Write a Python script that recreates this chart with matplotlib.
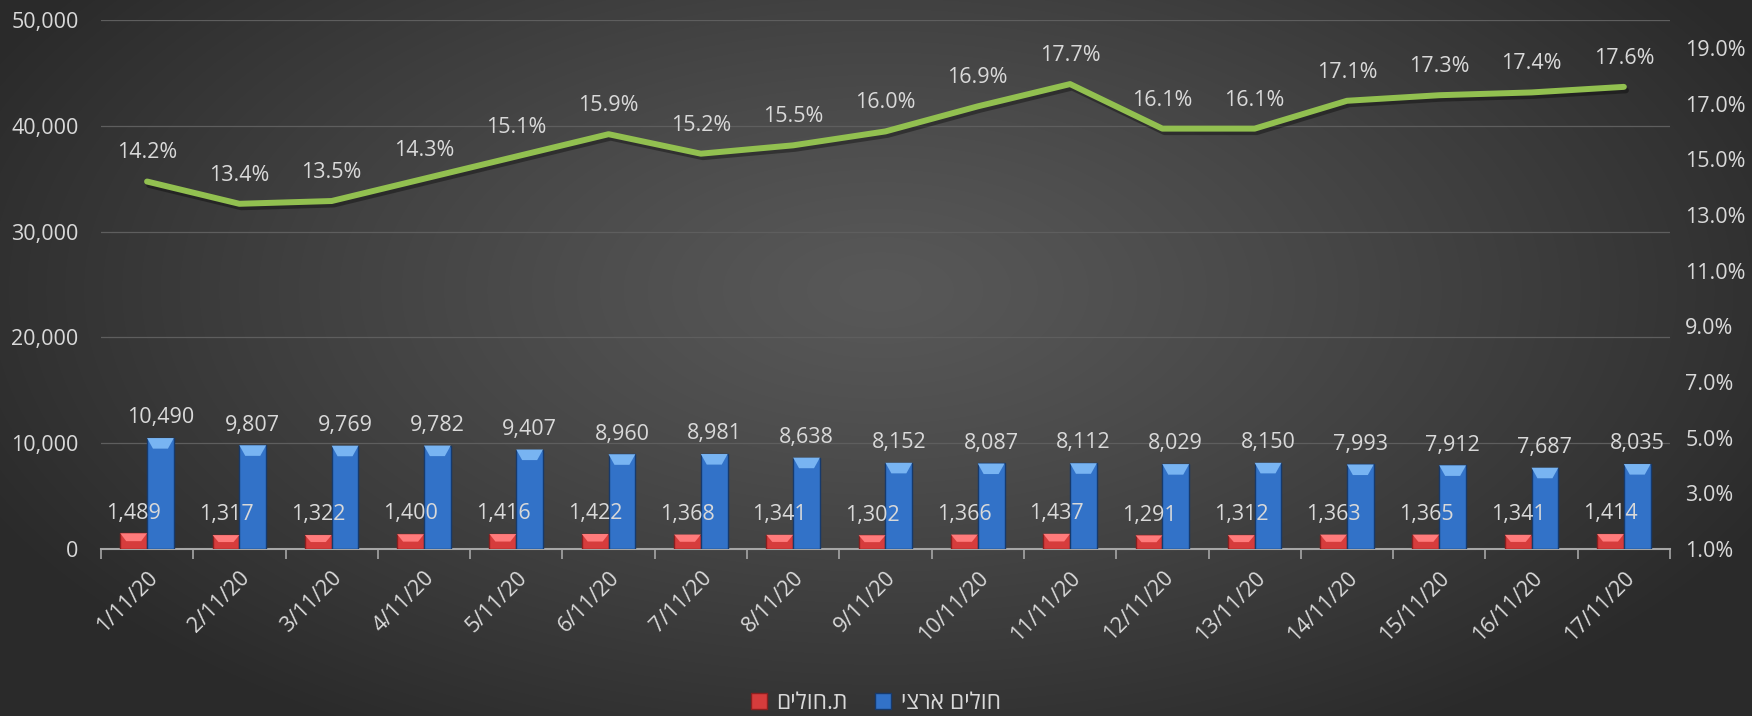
# coding: utf-8

import numpy as np
import matplotlib
matplotlib.use("Agg")
import matplotlib.pyplot as plt
import matplotlib.patheffects as pe
from matplotlib.patches import Patch
from matplotlib.ticker import FuncFormatter

plt.rcParams["font.family"] = ["Open Sans", "DejaVu Sans"]

# ---- data
dates = ["1/11/20", "2/11/20", "3/11/20", "4/11/20", "5/11/20", "6/11/20", "7/11/20",
         "8/11/20", "9/11/20", "10/11/20", "11/11/20", "12/11/20", "13/11/20",
         "14/11/20", "15/11/20", "16/11/20", "17/11/20"]
national = [10490, 9807, 9769, 9782, 9407, 8960, 8981, 8638, 8152, 8087, 8112,
            8029, 8150, 7993, 7912, 7687, 8035]
hospital = [1489, 1317, 1322, 1400, 1416, 1422, 1368, 1341, 1302, 1366, 1437,
            1291, 1312, 1363, 1365, 1341, 1414]
ratio = [14.2, 13.4, 13.5, 14.3, 15.1, 15.9, 15.2, 15.5, 16.0, 16.9, 17.7,
         16.1, 16.1, 17.1, 17.3, 17.4, 17.6]

label_national = "חולים ארצי"
label_hospital = "ת.חולים"

TXT = "#d9d9d9"
FS = 15.5


def heb(s):
    # matplotlib has no bidi, give it the visual order
    return s[::-1]


def draw_bars(ax, xs, vals, body, edge, cap, width):
    ax.bar(xs, vals, width=width, color=body, edgecolor=edge, linewidth=1.0, zorder=3)
    cap_h = 1000.0
    for x, v in zip(xs, vals):
        h = min(cap_h, v * 0.5)
        x0, x1 = x - width / 2, x + width / 2
        ax.fill([x0, x1, x1 - width * 0.22, x0 + width * 0.22],
                [v, v, v - h, v - h], color=cap, lw=0, zorder=4)


def main():
    fig = plt.figure(figsize=(17.52, 7.16), dpi=100)

    # radial dark background
    bg = fig.add_axes([0, 0, 1, 1], zorder=-10)
    yy, xx = np.mgrid[0:716, 0:1752]
    r = np.sqrt(((xx - 880) / 1000.0) ** 2 + ((yy - 290) / 520.0) ** 2)
    t = np.clip(r, 0, 1) ** 1.2
    c0, c1 = 0x58 / 255.0, 0x2a / 255.0
    img = c0 * (1 - t) + c1 * t
    bg.imshow(np.dstack([img, img, img]), aspect="auto", interpolation="bilinear")
    bg.axis("off")

    ax = fig.add_axes([0.0576, 0.2332, 0.8956, 0.7388])
    ax.set_facecolor("none")

    x = np.arange(len(dates))
    w = 0.29
    draw_bars(ax, x - w / 2, hospital, "#d63c3c", "#8a1f1f", "#ff7b7b", w)
    draw_bars(ax, x + w / 2, national, "#3272c8", "#173a6c", "#78b4f2", w)

    for xi, v in zip(x - w / 2, hospital):
        ax.annotate(f"{v:,}", (xi, v), xytext=(0, 7), textcoords="offset points",
                    ha="center", va="bottom", color=TXT, fontsize=FS, zorder=6)
    for xi, v in zip(x + w / 2, national):
        ax.annotate(f"{v:,}", (xi, v), xytext=(0, 7), textcoords="offset points",
                    ha="center", va="bottom", color=TXT, fontsize=FS, zorder=6)

    ax.set_xlim(-0.5, len(dates) - 0.5)
    ax.set_ylim(0, 50000)
    ax.set_yticks(np.arange(0, 50001, 10000))
    ax.yaxis.set_major_formatter(FuncFormatter(lambda v, p: f"{int(v):,}"))
    ax.yaxis.grid(True, color="#5e5e5e", linewidth=0.9, zorder=0)
    ax.set_axisbelow(True)
    ax.tick_params(axis="y", length=0, pad=16, colors=TXT, labelsize=FS)

    ax.set_xticks(x)
    ax.set_xticklabels(dates, rotation=45, ha="right", va="top",
                       rotation_mode="anchor", color=TXT, fontsize=FS)
    ax.set_xticks(np.arange(-0.5, len(dates)), minor=True)
    ax.tick_params(axis="x", which="major", length=0, pad=13)
    ax.tick_params(axis="x", which="minor", length=7, width=1.2, color="#a6a6a6")

    for s in ["top", "left", "right"]:
        ax.spines[s].set_visible(False)
    ax.spines["bottom"].set_color("#a6a6a6")
    ax.spines["bottom"].set_linewidth(1.5)

    ax2 = ax.twinx()
    ax2.plot(x, ratio, color="#92c050", linewidth=4.3, solid_capstyle="round",
             zorder=5, path_effects=[pe.SimpleLineShadow(offset=(1.5, -2.5), alpha=0.35),
                                     pe.Normal()])
    for xi, v in zip(x, ratio):
        ax2.annotate(f"{v:.1f}%", (xi, v), xytext=(0, 13), textcoords="offset points",
                     ha="center", va="bottom", color=TXT, fontsize=FS)
    ax2.set_ylim(1, 20)
    ax2.set_yticks(np.arange(1, 20, 2))
    ax2.yaxis.set_major_formatter(FuncFormatter(lambda v, p: f"{v:.1f}%"))
    ax2.tick_params(axis="y", length=0, pad=11, colors=TXT, labelsize=FS)
    for s in ["top", "left", "right", "bottom"]:
        ax2.spines[s].set_visible(False)

    handles = [Patch(facecolor="#d63c3c", edgecolor="#8a1f1f"),
               Patch(facecolor="#3272c8", edgecolor="#173a6c")]
    fig.legend(handles, [heb(label_hospital), heb(label_national)],
               loc="lower center", bbox_to_anchor=(0.5, -0.028), ncol=2, frameon=False,
               fontsize=FS + 1, labelcolor=TXT, handlelength=0.7, handleheight=0.7,
               handletextpad=0.4, columnspacing=1.2)

    fig.savefig("out.png", dpi=100)


### MAIN ####
if __name__ == '__main__':
    main()
